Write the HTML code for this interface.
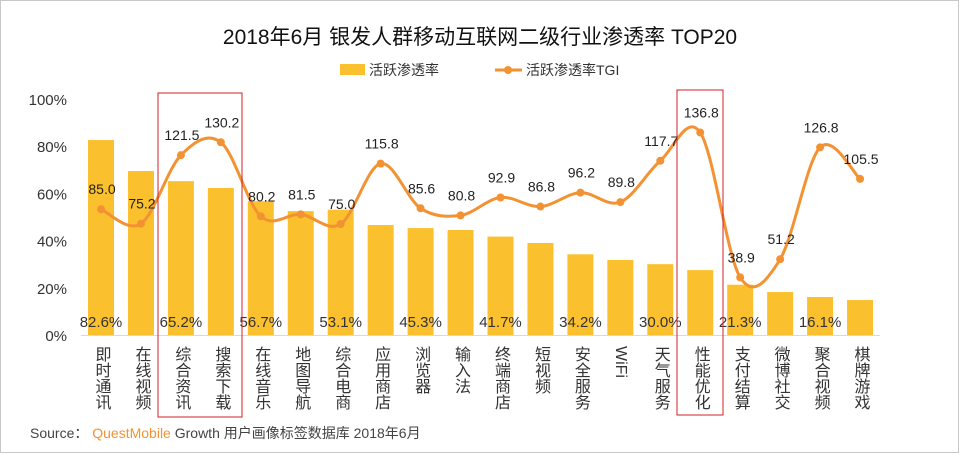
<!DOCTYPE html>
<html><head><meta charset="utf-8">
<style>
body{margin:0;background:#fff;}
#wrap{position:relative;width:960px;height:454px;overflow:hidden;font-family:"Liberation Sans","Noto Sans CJK SC",sans-serif;}
svg text{font-family:"Liberation Sans","Noto Sans CJK SC",sans-serif;}
</style></head>
<body>
<div id="wrap">
<svg id="chart" width="960" height="454">
<rect x="0.5" y="0.5" width="958" height="452" fill="#fff" stroke="#c8c8c8"/>
<text x="480" y="44" text-anchor="middle" font-size="21" fill="#111">2018年6月 银发人群移动互联网二级行业渗透率 TOP20</text>
<rect x="340" y="64" width="25" height="11" fill="#fbc02d"/>
<text x="369" y="75" font-size="14" fill="#333">活跃渗透率</text>
<line x1="495" y1="70" x2="522" y2="70" stroke="#f39233" stroke-width="3"/>
<circle cx="508" cy="70" r="4" fill="#f39233"/>
<text x="526" y="75" font-size="14" fill="#333">活跃渗透率TGI</text>
<g id="yaxis"></g><g id="bars"></g><g id="line"></g><g id="labels"></g><g id="cats"></g>
<rect x="158" y="93" width="84" height="324" fill="none" stroke="#d0202a" stroke-width="1"/>
<rect x="677" y="90" width="46" height="325" fill="none" stroke="#d0202a" stroke-width="1"/>
<text x="30" y="438" font-size="14" fill="#444">Source：  <tspan fill="#f39233">QuestMobile</tspan> Growth 用户画像标签数据库 2018年6月</text>
</svg>
</div>
<script>
const categories=["即时通讯","在线视频","综合资讯","搜索下载","在线音乐","地图导航","综合电商","应用商店","浏览器","输入法","终端商店","短视频","安全服务","WiFi","天气服务","性能优化","支付结算","微博社交","聚合视频","棋牌游戏"];
const penetration=[82.6,69.5,65.2,62.3,56.7,52.5,53.1,46.6,45.3,44.5,41.7,39.0,34.2,31.8,30.0,27.5,21.3,18.2,16.1,14.8];
const tgi=[85.0,75.2,121.5,130.2,80.2,81.5,75.0,115.8,85.6,80.8,92.9,86.8,96.2,89.8,117.7,136.8,38.9,51.2,126.8,105.5];
const yTicks=[0,20,40,60,80,100];
const showBarLabel=[true,false,true,false,true,false,true,false,true,false,true,false,true,false,true,false,true,false,true,false];

const NS="http://www.w3.org/2000/svg";
const y0=335, x0=101, step=39.95, bw=26;
const yL=v=>y0-v*2.36;
const yR=v=>y0-v*1.48;
const xC=i=>x0+i*step;
function mk(tag,attrs,parent,text){const e=document.createElementNS(NS,tag);for(const k in attrs)e.setAttribute(k,attrs[k]);if(text!=null)e.textContent=text;parent.appendChild(e);return e;}

const ya=document.getElementById('yaxis');
yTicks.forEach(t=>{const e=mk('text',{x:67,y:yL(t)+6,'text-anchor':'end','font-size':15,fill:'#333'},ya,t+'%');

});
const ax=mk('line',{x1:81,y1:y0+0.5,x2:880,y2:y0+0.5,stroke:'#d9d9d9'},ya);



const bg=document.getElementById('bars'), lg=document.getElementById('labels'), cg=document.getElementById('cats');
penetration.forEach((v,i)=>{
 const r=mk('rect',{x:xC(i)-bw/2,y:yL(v),width:bw,height:y0-yL(v),fill:'#fbc02d'},bg);
 
 
 if(showBarLabel[i]){const t=mk('text',{x:xC(i),y:327,'text-anchor':'middle','font-size':15,fill:'#333'},lg,v.toFixed(1)+'%');
 
 }
});
categories.forEach((c,i)=>{
 const t=mk('text',{x:xC(i),y:346,'font-size':16,fill:'#333','writing-mode':'vertical-rl','text-anchor':'start'},cg,c);
 t.style.writingMode='vertical-rl';
 
 
});

const pts=tgi.map((v,i)=>[xC(i),yR(v)]);
let d='M'+pts[0][0]+','+pts[0][1];
for(let i=0;i<pts.length-1;i++){
 const p0=pts[i-1]||pts[i],p1=pts[i],p2=pts[i+1],p3=pts[i+2]||p2;
 const c1=[p1[0]+(p2[0]-p0[0])/6,p1[1]+(p2[1]-p0[1])/6];
 const c2=[p2[0]-(p3[0]-p1[0])/6,p2[1]-(p3[1]-p1[1])/6];
 d+=' C'+c1+' '+c2+' '+p2;
}
const lgp=document.getElementById('line');
const path=mk('path',{d:d,fill:'none',stroke:'#f39233','stroke-width':3},lgp);


pts.forEach((p,i)=>{
 const c=mk('circle',{cx:p[0],cy:p[1],r:4,fill:'#f39233'},lgp);
 
 
 const t=mk('text',{x:p[0]+1,y:p[1]-15,'text-anchor':'middle','font-size':14,fill:'#222'},lg,tgi[i].toFixed(1));
 
 
});
</script>
</body></html>
